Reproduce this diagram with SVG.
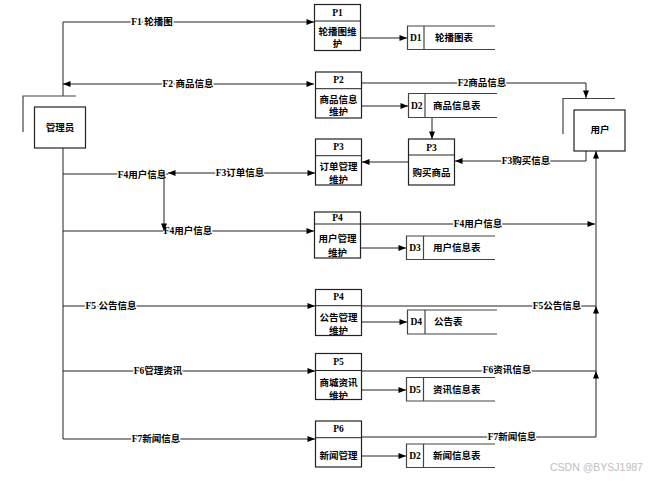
<svg xmlns="http://www.w3.org/2000/svg" width="661" height="481" viewBox="0 0 661 481">
<style>
text{font-family:"Liberation Serif","Noto Sans CJK SC",serif;font-size:9.5px;font-weight:bold;fill:#000;dominant-baseline:central}
.c{text-anchor:middle}
.lbl{text-anchor:middle;paint-order:stroke;stroke:#fff;stroke-width:3px}
.box{fill:#fff;stroke:#222;stroke-width:1.2}
.ln{fill:none;stroke:#222;stroke-width:1}
.ds{fill:none;stroke:#444;stroke-width:1.2}
.wm{font-family:"Liberation Sans",sans-serif;font-weight:normal;font-size:10.5px;fill:#c0c0c0}
</style>
<defs>
<marker id="a" viewBox="0 0 10 8" refX="10" refY="4" markerWidth="8" markerHeight="6" markerUnits="userSpaceOnUse" orient="auto-start-reverse">
<path d="M0,0 L10,4 L0,8 z" fill="#000"/>
</marker>
</defs>
<rect width="661" height="481" fill="#fff"/>
<g id="connectors">
<polyline class="ln" points="63,96 63,22 314,22" marker-end="url(#a)"/>
<line class="ln" x1="63" y1="148" x2="63" y2="439"/>
<line class="ln" x1="63" y1="84" x2="314" y2="84" marker-start="url(#a)" marker-end="url(#a)"/>
<polyline class="ln" points="362,83 586,83 586,98" marker-end="url(#a)"/>
<line class="ln" x1="360" y1="38" x2="407" y2="38" marker-end="url(#a)"/>
<line class="ln" x1="362" y1="106" x2="408" y2="106" marker-end="url(#a)"/>
<line class="ln" x1="432" y1="117" x2="432" y2="139" marker-end="url(#a)"/>
<polyline class="ln" points="586,151 586,161 455,161" marker-end="url(#a)"/>
<line class="ln" x1="408" y1="162" x2="362" y2="162" marker-end="url(#a)"/>
<line class="ln" x1="168" y1="173" x2="315" y2="173" marker-start="url(#a)" marker-end="url(#a)"/>
<line class="ln" x1="63" y1="174" x2="168" y2="174"/>
<line class="ln" x1="63" y1="231" x2="314" y2="231" marker-end="url(#a)"/>
<line class="ln" x1="361" y1="224" x2="595" y2="224" marker-end="url(#a)"/>
<line class="ln" x1="361" y1="248" x2="406" y2="248" marker-end="url(#a)"/>
<line class="ln" x1="596" y1="306" x2="596" y2="151" marker-end="url(#a)"/>
<line class="ln" x1="596" y1="371" x2="596" y2="306" marker-end="url(#a)"/>
<line class="ln" x1="596" y1="437" x2="596" y2="371" marker-end="url(#a)"/>
<line class="ln" x1="63" y1="306" x2="315" y2="306" marker-end="url(#a)"/>
<line class="ln" x1="361" y1="306" x2="596" y2="306"/>
<line class="ln" x1="361" y1="322" x2="407" y2="322" marker-end="url(#a)"/>
<line class="ln" x1="63" y1="371" x2="315" y2="371" marker-end="url(#a)"/>
<line class="ln" x1="361" y1="371" x2="596" y2="371"/>
<line class="ln" x1="361" y1="390" x2="406" y2="390" marker-end="url(#a)"/>
<line class="ln" x1="63" y1="439" x2="315" y2="439" marker-end="url(#a)"/>
<line class="ln" x1="361" y1="437" x2="596" y2="437"/>
<line class="ln" x1="361" y1="456" x2="406" y2="456" marker-end="url(#a)"/>
<text class="lbl" x="152" y="22">F1 轮播图</text>
<text class="lbl" x="188" y="84">F2 商品信息</text>
<text class="lbl" x="482" y="83">F2商品信息</text>
<text class="lbl" x="526" y="161">F3购买信息</text>
<text class="lbl" x="240" y="173">F3订单信息</text>
<text class="lbl" x="142" y="175">F4用户信息</text>
<text class="lbl" x="188" y="231">F4用户信息</text>
<text class="lbl" x="478" y="224">F4用户信息</text>
<text class="lbl" x="111" y="306">F5 公告信息</text>
<text class="lbl" x="557" y="306">F5公告信息</text>
<text class="lbl" x="158" y="371">F6管理资讯</text>
<text class="lbl" x="507" y="370">F6资讯信息</text>
<text class="lbl" x="156" y="439">F7新闻信息</text>
<text class="lbl" x="512" y="437">F7新闻信息</text>
<line class="ln" x1="164" y1="174" x2="164" y2="231" marker-end="url(#a)"/>
</g>
<g id="admin">
<polyline class="ds" points="23,132 23,96 76,96"/>
<rect class="box" x="34.5" y="107" width="51" height="41"/>
<text class="c" x="60" y="128">管理员</text>
</g>
<g id="user">
<polyline class="ds" points="563,134 563,98.5 615,98.5"/>
<rect class="box" x="574" y="110" width="51" height="41"/>
<text class="c" x="600" y="130">用户</text>
</g>
<g id="P1">
<rect class="box" x="314.5" y="4.5" width="46" height="46"/>
<line class="ln" x1="314.5" y1="21" x2="360.5" y2="21"/>
<text class="c" x="337.5" y="12.5">P1</text>
<text class="c" x="337.5" y="32">轮播图维</text>
<text class="c" x="337.5" y="44">护</text>
</g>
<g id="P2">
<rect class="box" x="315.5" y="72" width="46" height="46"/>
<line class="ln" x1="315.5" y1="88.7" x2="361.5" y2="88.7"/>
<text class="c" x="338.5" y="79.5">P2</text>
<text class="c" x="338.5" y="100">商品信息</text>
<text class="c" x="338.5" y="112">维护</text>
</g>
<g id="P3a">
<rect class="box" x="315.5" y="139" width="46" height="46"/>
<line class="ln" x1="315.5" y1="155.7" x2="361.5" y2="155.7"/>
<text class="c" x="338.5" y="146.5">P3</text>
<text class="c" x="338.5" y="167">订单管理</text>
<text class="c" x="338.5" y="179.5">维护</text>
</g>
<g id="P3b">
<rect class="box" x="408.5" y="139" width="46" height="46"/>
<line class="ln" x1="408.5" y1="155" x2="454.5" y2="155"/>
<text class="c" x="431.5" y="148">P3</text>
<text class="c" x="431.5" y="173">购买商品</text>
</g>
<g id="P4a">
<rect class="box" x="314.5" y="212" width="46" height="46"/>
<line class="ln" x1="314.5" y1="224" x2="360.5" y2="224"/>
<text class="c" x="337.5" y="218">P4</text>
<text class="c" x="337.5" y="239">用户管理</text>
<text class="c" x="337.5" y="252.5">维护</text>
</g>
<g id="P4b">
<rect class="box" x="315.5" y="289.5" width="46" height="46"/>
<line class="ln" x1="315.5" y1="305.7" x2="361.5" y2="305.7"/>
<text class="c" x="338.5" y="296.5">P4</text>
<text class="c" x="338.5" y="318">公告管理</text>
<text class="c" x="338.5" y="330.5">维护</text>
</g>
<g id="P5">
<rect class="box" x="315.5" y="353.5" width="46" height="46"/>
<line class="ln" x1="315.5" y1="370.5" x2="361.5" y2="370.5"/>
<text class="c" x="338.5" y="361.5">P5</text>
<text class="c" x="338.5" y="383">商城资讯</text>
<text class="c" x="338.5" y="395.5">维护</text>
</g>
<g id="P6">
<rect class="box" x="315.5" y="421" width="46" height="46"/>
<line class="ln" x1="315.5" y1="437.7" x2="361.5" y2="437.7"/>
<text class="c" x="338.5" y="429">P6</text>
<text class="c" x="338.5" y="456">新闻管理</text>
</g>
<g id="D1">
<path class="ds" d="M495,26 H407.5 V49.5 H495 M424,26 V49.5"/>
<text class="c" x="415.7" y="38">D1</text>
<text x="435" y="38">轮播图表</text>
</g>
<g id="D2">
<path class="ds" d="M497,93.5 H408.5 V117.5 H497 M425,93.5 V117.5"/>
<text class="c" x="416.7" y="105.5">D2</text>
<text x="433" y="105.5">商品信息表</text>
</g>
<g id="D3">
<path class="ds" d="M495,236 H406.5 V259.5 H495 M423.5,236 V259.5"/>
<text class="c" x="415" y="248">D3</text>
<text x="433" y="248">用户信息表</text>
</g>
<g id="D4">
<path class="ds" d="M497,310 H407.5 V334 H497 M425,310 V334"/>
<text class="c" x="416.2" y="322">D4</text>
<text x="434" y="322">公告表</text>
</g>
<g id="D5">
<path class="ds" d="M495,377.5 H406.5 V401 H495 M423.5,377.5 V401"/>
<text class="c" x="415" y="389.5">D5</text>
<text x="433" y="389.5">资讯信息表</text>
</g>
<g id="D2b">
<path class="ds" d="M495,444 H406.5 V467.5 H495 M423.5,444 V467.5"/>
<text class="c" x="415" y="456">D2</text>
<text x="433" y="456">新闻信息表</text>
</g>
<text class="wm" x="550" y="467">CSDN @BYSJ1987</text>
</svg>
